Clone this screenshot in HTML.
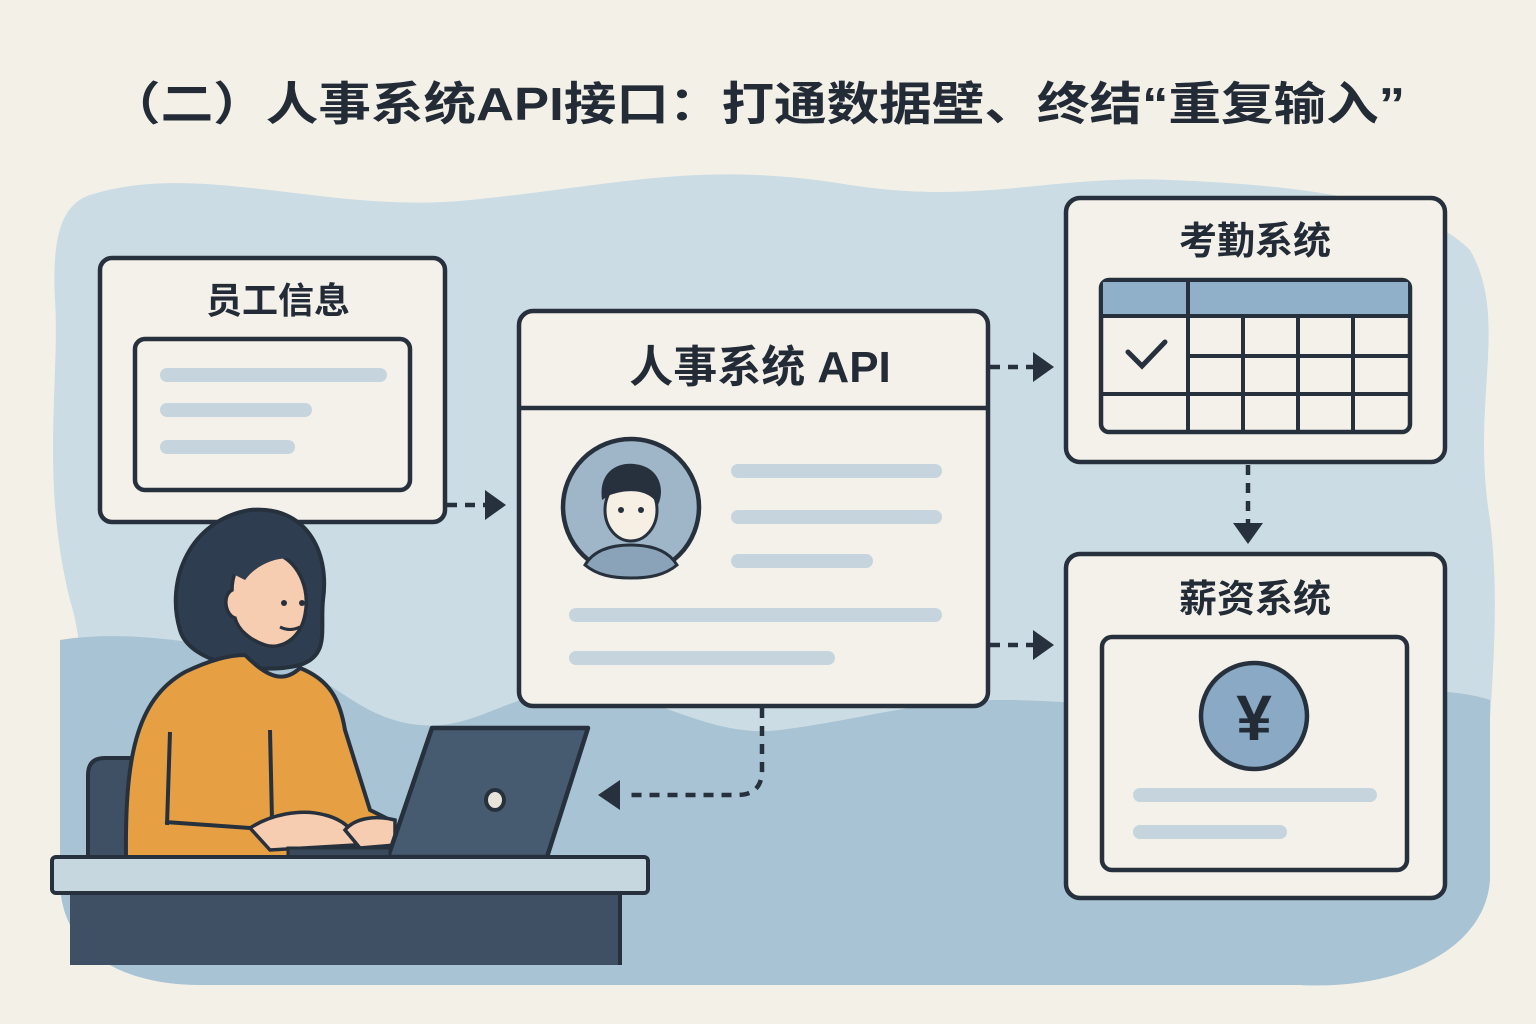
<!DOCTYPE html>
<html><head><meta charset="utf-8"><style>
html,body{margin:0;padding:0;background:#f3f0e8;}
svg{display:block}
text{font-family:"Liberation Sans","Noto Sans CJK SC",sans-serif;font-weight:bold;fill:#222b36}
</style></head><body>
<svg width="1536" height="1024" viewBox="0 0 1536 1024" xmlns="http://www.w3.org/2000/svg">
<rect width="1536" height="1024" fill="#f3f0e8"/>
<text x="108" y="120" font-size="46" textLength="1297" lengthAdjust="spacingAndGlyphs">（二）人事系统API接口：打通数据壁、终结“重复输入”</text>
<!-- blob -->
<path d="M90 195 C200 160 330 215 470 200 C620 185 700 160 850 185 C980 205 1050 175 1170 180 C1300 185 1420 200 1470 250 C1510 320 1470 400 1490 520 C1505 640 1480 760 1485 880 C1485 950 1400 990 1300 985 L200 985 C120 985 60 950 60 880 C60 780 100 700 70 600 C40 480 60 380 55 300 C52 240 60 205 90 195 Z" fill="#cbdce4"/>
<path d="M60 640 C120 630 200 640 280 660 C330 675 360 720 420 725 C470 730 500 700 560 690 C640 680 700 740 780 730 C860 720 920 700 1000 700 C1100 700 1200 720 1300 700 C1400 685 1460 690 1490 700 L1490 880 C1485 950 1400 990 1300 985 L200 985 C120 985 60 950 60 880 Z" fill="#a8c3d4"/>
<g stroke="#27313d" stroke-width="4.5" fill="#f3f1ea">
<rect x="100" y="258" width="345" height="264" rx="12"/>
<rect x="135" y="339" width="275" height="151" rx="10"/>
<rect x="519" y="311" width="469" height="395" rx="14"/>
<line x1="519" y1="408" x2="988" y2="408"/>
<rect x="1066" y="198" width="379" height="264" rx="14"/>
<rect x="1066" y="554" width="379" height="344" rx="14"/>
<rect x="1102" y="637" width="305" height="233" rx="10"/>
</g>
<text x="278" y="313" font-size="36" text-anchor="middle">员工信息</text>
<text x="760" y="382" font-size="44" text-anchor="middle">人事系统 API</text>
<text x="1255" y="254" font-size="38" text-anchor="middle">考勤系统</text>
<text x="1255" y="612" font-size="38" text-anchor="middle">薪资系统</text>
<g stroke="#c6d5dd" stroke-width="14" stroke-linecap="round">
<line x1="167" y1="375" x2="380" y2="375"/><line x1="167" y1="410" x2="305" y2="410"/><line x1="167" y1="447" x2="288" y2="447"/>
<line x1="738" y1="471" x2="935" y2="471"/><line x1="738" y1="517" x2="935" y2="517"/><line x1="738" y1="561" x2="866" y2="561"/>
<line x1="576" y1="615" x2="935" y2="615"/><line x1="576" y1="658" x2="828" y2="658"/>
<line x1="1140" y1="795" x2="1370" y2="795"/><line x1="1140" y1="832" x2="1280" y2="832"/>
</g>
<circle cx="631" cy="507" r="68" fill="#9fb6c8" stroke="#27313d" stroke-width="4.5"/>
<path d="M585 565 C595 548 615 545 631 545 C647 545 667 548 677 565 C665 575 650 578 631 578 C612 578 597 575 585 565Z" fill="#8aa3b8" stroke="#27313d" stroke-width="3"/>
<ellipse cx="631" cy="510" rx="26" ry="31" fill="#f5efe4" stroke="#27313d" stroke-width="3"/>
<path d="M602 500 C598 470 620 460 640 465 C660 470 665 490 658 505 C650 490 630 488 610 495Z" fill="#27313d"/>
<circle cx="621" cy="510" r="3" fill="#27313d"/><circle cx="641" cy="510" r="3" fill="#27313d"/>
<rect x="1101" y="280" width="309" height="152" rx="8" fill="#f3f1ea" stroke="#27313d" stroke-width="4.5"/>
<path d="M1103 282 H1408 V316 H1103Z" fill="#8fb0c8"/>
<g stroke="#27313d" stroke-width="4">
<line x1="1101" y1="316" x2="1410" y2="316"/><line x1="1188" y1="356" x2="1410" y2="356"/><line x1="1101" y1="394" x2="1410" y2="394"/>
<line x1="1188" y1="280" x2="1188" y2="432"/><line x1="1243" y1="316" x2="1243" y2="432"/><line x1="1298" y1="316" x2="1298" y2="432"/><line x1="1353" y1="316" x2="1353" y2="432"/>
</g>
<path d="M1128 352 L1142 366 L1165 342" stroke="#27313d" stroke-width="5" fill="none" stroke-linecap="round"/>
<circle cx="1254" cy="716" r="53" fill="#8aa9c4" stroke="#27313d" stroke-width="4.5"/>
<text x="1254" y="740" font-size="64" text-anchor="middle">¥</text>
<g stroke="#27313d" stroke-width="4.5" fill="none" stroke-dasharray="10 8">
<line x1="447" y1="505" x2="485" y2="505"/>
<line x1="990" y1="367" x2="1035" y2="367"/>
<line x1="990" y1="645" x2="1035" y2="645"/>
<line x1="1248" y1="465" x2="1248" y2="525"/>
<path d="M762 708 V770 Q762 795 737 795 H625"/>
</g>
<g fill="#27313d">
<path d="M485 490 L506 505 L485 520Z"/>
<path d="M1033 352 L1054 367 L1033 382Z"/>
<path d="M1033 630 L1054 645 L1033 660Z"/>
<path d="M1233 523 L1248 544 L1263 523Z"/>
<path d="M620 780 L598 795 L620 810Z"/>
</g>
<path d="M88 857 V775 Q88 758 105 758 H140 V857Z" fill="#3f5064" stroke="#27313d" stroke-width="4"/>
<path d="M180 630 C165 580 190 520 250 510 C305 505 330 550 323 600 C320 630 330 655 300 665 C260 675 190 665 180 630Z" fill="#2e3d4f" stroke="#27313d" stroke-width="4"/>
<path d="M126 857 C125 760 135 700 185 672 C210 660 230 655 245 655 C270 680 285 682 300 668 C330 680 340 700 345 730 L370 810 L390 820 L380 857Z" fill="#e6a043" stroke="#27313d" stroke-width="4"/>
<path d="M170 732 L167 825 M270 730 L272 820 M165 822 L250 828" stroke="#27313d" stroke-width="4" fill="none"/>
<path d="M232 590 C232 560 255 545 280 555 C300 565 310 590 305 615 C300 640 280 650 265 645 C250 640 238 630 235 618 C225 615 222 595 232 590Z" fill="#f6cdb0" stroke="#27313d" stroke-width="3.5"/>
<path d="M225 570 C240 540 280 540 300 560 C285 555 260 560 245 580Z" fill="#2e3d4f"/>
<circle cx="284" cy="603" r="3" fill="#27313d"/><circle cx="302" cy="603" r="3" fill="#27313d"/>
<path d="M280 627 Q290 632 300 627" stroke="#27313d" stroke-width="3" fill="none"/>
<path d="M250 828 C270 815 300 808 325 815 C345 820 360 835 355 845 L270 850 Z" fill="#f6cdb0" stroke="#27313d" stroke-width="3.5"/>
<path d="M345 830 C355 818 375 815 395 820 L395 845 L360 848Z" fill="#f6cdb0" stroke="#27313d" stroke-width="3.5"/>
<path d="M432 728 H588 L547 857 H388Z" fill="#465a70" stroke="#27313d" stroke-width="4.5" stroke-linejoin="round"/>
<path d="M288 848 H390 V857 H288Z" fill="#3a4a5c" stroke="#27313d" stroke-width="3"/>
<ellipse cx="495" cy="800" rx="9" ry="10" fill="#e8e4da" stroke="#27313d" stroke-width="4"/>
<path d="M70 893 H620 V965 H70 Z" fill="#3f5064"/>
<rect x="52" y="857" width="596" height="36" rx="4" fill="#c7d7df" stroke="#27313d" stroke-width="4"/>
<line x1="620" y1="893" x2="620" y2="965" stroke="#27313d" stroke-width="4"/>
</svg>
</body></html>
